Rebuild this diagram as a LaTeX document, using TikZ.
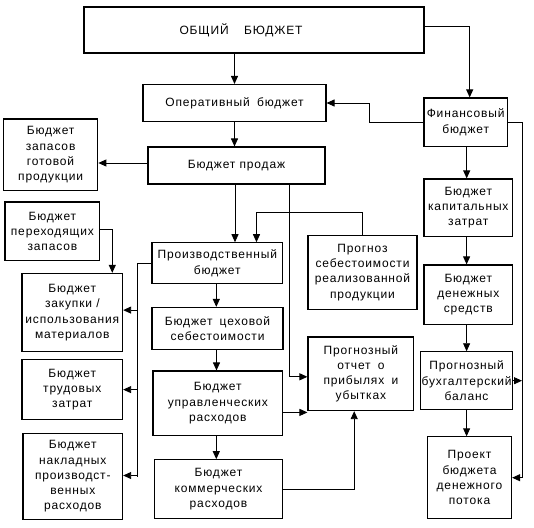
\documentclass[tikz,border=0pt]{standalone}
\usepackage{fontspec}
\setmainfont{Liberation Sans}[LetterSpace=7]
\usepackage{tikz}
\usetikzlibrary{arrows.meta, positioning}
\tikzstyle{box} = [rectangle, draw=black, line width=1.1pt, align=center, inner sep=1pt, font=\fontsize{12}{15.3}\selectfont]
\tikzstyle{arrow} = [line width=0.9pt, -{Triangle[length=8pt,width=7pt]}]
\tikzstyle{line} = [line width=0.9pt]

\begin{document}
\begin{tikzpicture}[x=1pt, y=-1pt]
\useasboundingbox (0,0) rectangle (534,527);

% Top level
\node (obsh) [box, minimum width=340, minimum height=46] at (254,30) {ОБЩИЙ\hspace{1.3em}БЮДЖЕТ\hspace{26pt}};
\node (oper) [box, minimum width=183, minimum height=37] at (234.5,103) {Оперативный\hspace{0.6em}бюджет};
\node (fin) [box, minimum width=83.5, minimum height=48.5] at (465.7,122.2) {Финансовый\\бюджет};

% Operating budget
\node (prod) [box, minimum width=177, minimum height=37] at (236.5,165.5) {Бюджет продаж};
\node (gotov) [box, minimum width=94.4, minimum height=71.7] at (50.6,154.8) {Бюджет\\запасов\\готовой\\продукции};
\node (perex) [box, minimum width=94.8, minimum height=58.8] at (52.4,231.4) {Бюджет\\переходящих\\запасов};
\node (proizv) [box, minimum width=130.7, minimum height=40.9] at (217.3,263.2) {Производственный\\бюджет};
\node (sebest) [box, minimum width=109, minimum height=73.9] at (362.5,272.2) {Прогноз\\себестоимости\\реализованной\\продукции};
\node (zakup) [box, minimum width=100.6, minimum height=78.4] at (72.3,312.6) {Бюджет\\закупки /\\использования\\материалов};
\node (cex) [box, minimum width=131, minimum height=41.9] at (217.5,328.4) {Бюджет\hspace{0.6em}цеховой\\себестоимости};
\node (otchet) [box, minimum width=105.8, minimum height=73.6] at (360.9,373.8) {Прогнозный\\отчет\hspace{0.6em}о\\прибылях\hspace{0.6em}и\\убытках};
\node (trud) [box, minimum width=100.6, minimum height=60.3] at (72.3,389.6) {Бюджет\\трудовых\\затрат};
\node (upr) [box, minimum width=129.7, minimum height=64.8] at (217.8,403.4) {Бюджет\\управленческих\\расходов};
\node (naklad) [box, minimum width=99.6, minimum height=86.2] at (72.8,476.5) {Бюджет\\накладных\\производст-\\венных\\расходов};
\node (kommer) [box, minimum width=128.4, minimum height=58.9] at (218.5,489.2) {Бюджет\\коммерческих\\расходов};

% Financial budget
\node (kapit) [box, minimum width=88.6, minimum height=57.7] at (468.3,207.8) {Бюджет\\капитальных\\затрат};
\node (denezh) [box, minimum width=88.6, minimum height=59.5] at (468.3,294.7) {Бюджет\\денежных\\средств};
\node (balans) [box, minimum width=90, minimum height=57.8] at (466.6,380.7) {Прогнозный\\бухгалтерский\\баланс};
\node (proekt) [box, minimum width=84.1, minimum height=81.7] at (469.5,477.7) {Проект\\бюджета\\денежного\\потока};

% Bus lines
\coordinate (lbus) at ([xshift=-14]proizv.west);
\coordinate (rbus) at ([xshift=14]fin.east);

% Arrows
\draw [arrow] (oper.north |- obsh.south) -- (oper.north);
\draw [arrow] ([yshift=4]obsh.east) -| ([xshift=4]fin.north);
\draw [arrow] (fin.west) -- ++(-54,0) |- (oper.east);
\draw [arrow] (oper.south) -- (oper.south |- prod.north);
\draw [arrow] ([yshift=2.5]prod.west) -- ([yshift=2.5]prod.west -| gotov.east);
\draw [arrow] ([xshift=-1.5]prod.south) -- ([xshift=-1.5]prod.south |- proizv.north);
\draw [arrow] ([xshift=53]prod.south) |- ([yshift=-3]otchet.west);
\draw [arrow] (sebest.north) -- ++(0,-22) -| ([xshift=39.2]proizv.north);
\draw [arrow] ([yshift=2]perex.east) -| ([xshift=40]zakup.north);
\draw [line] (proizv.west) -- (lbus) -- (lbus |- naklad.east);
\draw [arrow] ([yshift=2.5]lbus |- zakup.east) -- ([yshift=2.5]zakup.east);
\draw [arrow] (lbus |- trud.east) -- (trud.east);
\draw [arrow] ([yshift=1]lbus |- naklad.east) -- ([yshift=1]naklad.east);
\draw [arrow] ([xshift=-1]proizv.south) -- ([xshift=-1]proizv.south |- cex.north);
\draw [arrow] ([xshift=-1]cex.south) -- ([xshift=-1]cex.south |- upr.north);
\draw [arrow] ([xshift=-1.5]upr.south) -- ([xshift=-1.5]upr.south |- kommer.north);
\draw [arrow] ([yshift=-9]upr.east) -- ([yshift=-9]upr.east -| otchet.west);
\draw [arrow] (kommer.east) -| ([xshift=-6.7]otchet.south);
\draw [arrow] ([xshift=1]fin.south) -- ([xshift=1]fin.south |- kapit.north);
\draw [arrow] ([xshift=-1.7]kapit.south) -- ([xshift=-1.7]kapit.south |- denezh.north);
\draw [arrow] ([xshift=-1.7]denezh.south) -- ([xshift=-1.7]denezh.south |- balans.north);
\draw [arrow] (balans.south) -- (balans.south |- proekt.north);
\draw [arrow] (fin.east) -- (rbus) |- (proekt.east);
\draw [arrow] (balans.east) -- (balans.east -| rbus);

\end{tikzpicture}
\end{document}
